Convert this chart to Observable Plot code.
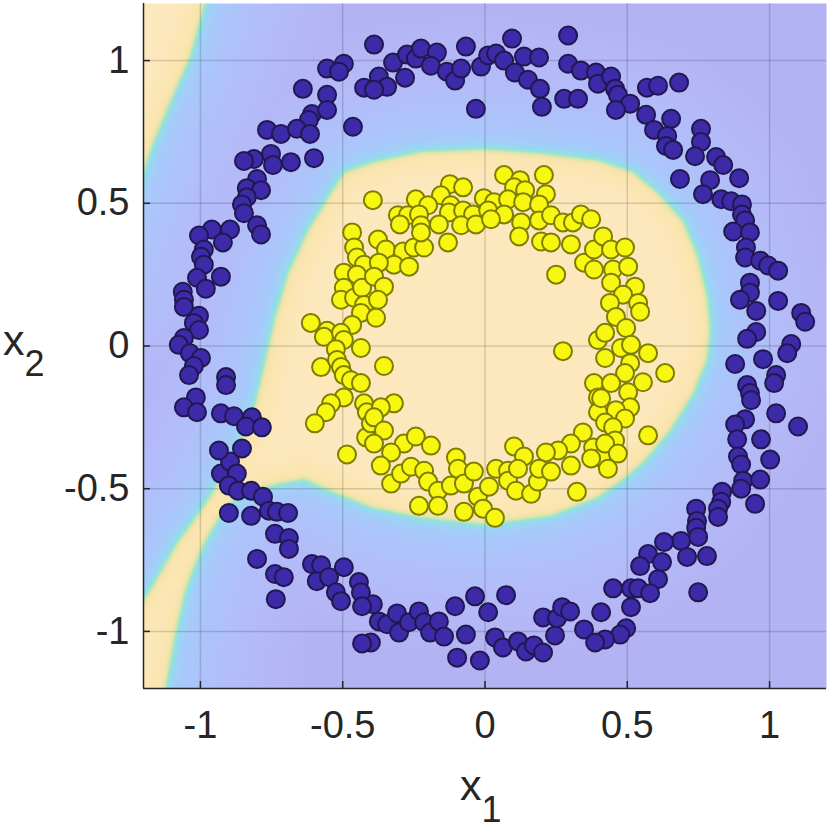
<!DOCTYPE html>
<html>
<head>
<meta charset="utf-8">
<script src="https://cdn.jsdelivr.net/npm/d3@7"></script>
<script src="https://cdn.jsdelivr.net/npm/@observablehq/plot@0.6"></script>
<style>
  body { margin: 0; background: #fff; }
  #chart svg { display: block; }
</style>
</head>
<body>
<div id="chart"></div>
<script>
// ---------- data ----------
const xDomain = [-1.2, 1.2];
const yDomain = [-1.2, 1.2];
const xTicks = [-1, -0.5, 0, 0.5, 1];
const yTicks = [-1, -0.5, 0, 0.5, 1];
const xTickLabels = ["-1", "-0.5", "0", "0.5", "1"];
const yTickLabels = ["-1", "-0.5", "0", "0.5", "1"];

// class boundary of the decision surface (yellow side inside)
const mainBoundary = [
  [-0.626,0.408],[-0.590,0.465],[-0.548,0.535],[-0.496,0.613],[-0.390,0.650],[-0.225,0.685],
  [0.000,0.694],[0.197,0.680],[0.397,0.655],[0.520,0.615],[0.610,0.540],[0.700,0.440],
  [0.750,0.320],[0.786,0.170],[0.796,0.056],[0.784,-0.049],[0.735,-0.170],[0.650,-0.305],
  [0.560,-0.410],[0.490,-0.470],[0.397,-0.535],[0.232,-0.600],[0.000,-0.630],[-0.225,-0.606],
  [-0.401,-0.570],[-0.541,-0.514],[-0.636,-0.472],[-0.731,-0.489],[-0.822,-0.514],[-0.886,-0.549],
  [-0.935,-0.613],[-0.977,-0.683],[-1.016,-0.771],[-1.050,-0.863],[-1.088,-1.035],[-1.118,-1.204],
  [-1.140,-1.6],[-1.6,-1.6],[-1.6,-1.25],[-1.3,-1.05],[-1.199,-0.880],[-1.174,-0.842],
  [-1.083,-0.683],[-1.005,-0.577],[-0.963,-0.514],[-0.921,-0.437],[-0.865,-0.331],[-0.812,-0.201],
  [-0.787,-0.095],[-0.766,-0.004],[-0.742,0.102],[-0.696,0.257]
];
const cornerBoundary = [
  [-1.6,1.6],[-0.867,1.6],[-0.977,1.208],[-1.033,1.007],[-1.100,0.856],[-1.163,0.704],
  [-1.199,0.599],[-1.35,0.2],[-1.6,0.2]
];

// colour of the surface by signed distance to the boundary
const fieldStops  = [-0.5, -0.3, -0.15, -0.05, -0.016, -0.005, 0.003, 0.01, 0.022, 0.1];
const fieldColors = ["#b3b2f3", "#b4b9f7", "#b0c0fa", "#a9c8fb", "#9fd2f7", "#8ee0e6",
                     "#a6e4c6", "#dfe5ac", "#fae4ae", "#fde8bd"];

const outerPoints = [
[-0.496,0.989],[-0.555,0.972],[-0.513,0.961],[-0.640,0.901],[-0.555,0.880],[-0.425,0.905],[-0.390,1.056],[-0.608,0.813],[-0.555,0.827],[-0.619,0.792],[-0.464,0.768],[-0.766,0.757],[-0.717,0.743],[-0.661,0.761],[-0.615,0.743],[-0.752,0.673],[-0.812,0.655],[-0.847,0.648],[-0.745,0.634],[-0.682,0.644],[-0.601,0.658],[-0.801,0.585],[-0.837,0.553],[-0.787,0.546],[-0.837,0.521],[-0.854,0.496],[-0.847,0.465],[-0.960,0.408],[-0.896,0.408],[-0.801,0.423],[-0.787,0.391],[-1.005,0.387],
[-0.323,0.993],[-0.274,1.021],[-0.243,1.007],[-0.225,1.042],[-0.169,1.028],[-0.190,0.982],[-0.134,0.961],[-0.105,0.930],[-0.084,0.972],[-0.067,1.049],[-0.014,0.979],[0.011,1.018],[0.039,1.025],[0.067,1.000],[0.095,1.077],[0.105,0.958],[0.137,1.014],[0.190,1.011],[0.151,0.933],[0.193,0.901],[0.200,0.838],[-0.032,0.831],[0.292,1.088],[0.292,0.989],[0.337,0.965],[0.390,0.958],[0.397,0.919],[0.278,0.866],[0.327,0.866],[-0.373,0.944],[-0.344,0.908],[-0.390,0.898],[-0.281,0.940],
[0.443,0.944],[0.457,0.901],[0.467,0.880],[0.510,0.849],[0.460,0.827],[0.569,0.905],[0.608,0.912],[0.682,0.923],[0.566,0.810],[0.654,0.796],[0.594,0.757],[0.640,0.736],[0.636,0.701],[0.661,0.687],[0.759,0.761],[0.759,0.715],[0.738,0.665],[0.812,0.662],[0.837,0.634],[0.685,0.585],[0.791,0.581],[0.893,0.588],[0.766,0.532],[0.830,0.514],[0.865,0.507],[0.903,0.496],[0.903,0.461],[0.914,0.440],[0.872,0.401],[0.931,0.398],
[0.917,0.345],[0.914,0.310],[0.967,0.299],[0.995,0.282],[1.030,0.264],[0.931,0.222],[0.931,0.187],[0.896,0.162],[0.953,0.123],[1.030,0.158],[1.111,0.116],[1.125,0.085],[0.953,0.049],[0.921,0.025],[1.076,0.007],[1.062,-0.025],[0.879,-0.063],[0.977,-0.046],[1.023,-0.102],[1.016,-0.130],[0.921,-0.137],[0.931,-0.165],[0.935,-0.190],[1.023,-0.236],[1.100,-0.282],[0.914,-0.257],[0.879,-0.275],[0.886,-0.327],[0.970,-0.327],[0.889,-0.387],[1.002,-0.398],
[0.900,-0.415],[0.907,-0.472],[0.900,-0.500],[0.967,-0.468],[0.833,-0.511],[0.830,-0.546],[0.819,-0.570],[0.819,-0.599],[0.949,-0.553],[0.742,-0.570],[0.745,-0.613],[0.742,-0.637],[0.749,-0.669],[0.689,-0.683],[0.629,-0.687],[0.710,-0.739],[0.780,-0.736],[0.573,-0.729],[0.622,-0.757],[0.545,-0.771],[0.608,-0.817],[0.450,-0.849],[0.513,-0.849],[0.538,-0.849],[0.580,-0.866],[0.749,-0.863],[0.513,-0.915],[0.496,-0.989],[0.475,-1.011],[0.422,-1.028],
[-0.394,-0.905],[-0.401,-1.039],[-0.373,-0.965],[-0.344,-0.975],[-0.309,-0.937],[-0.302,-1.004],[-0.267,-0.968],[-0.232,-0.930],[-0.214,-0.968],[-0.193,-1.004],[-0.162,-0.965],[-0.144,-1.018],[-0.105,-0.912],[-0.098,-1.092],[-0.067,-1.011],[-0.035,-0.877],[0.011,-0.933],[-0.018,-1.102],[0.074,-0.873],[0.035,-1.021],[0.063,-1.056],[0.116,-1.035],[0.144,-1.070],[0.172,-1.049],[0.204,-1.074],[0.204,-0.951],[0.246,-1.014],[0.253,-0.954],[0.271,-0.915],[0.299,-0.930],[0.348,-0.993],[0.387,-1.039],[0.408,-0.933],
[-0.928,-0.447],[-0.896,-0.405],[-0.872,-0.447],[-0.900,-0.489],[-0.868,-0.507],[-0.822,-0.507],[-0.780,-0.528],[-0.900,-0.585],[-0.822,-0.595],[-0.759,-0.577],[-0.731,-0.581],[-0.692,-0.585],[-0.738,-0.658],[-0.689,-0.673],[-0.689,-0.711],[-0.801,-0.746],[-0.738,-0.799],[-0.707,-0.810],[-0.735,-0.887],[-0.608,-0.764],[-0.576,-0.768],[-0.591,-0.824],[-0.548,-0.810],[-0.496,-0.775],[-0.524,-0.863],[-0.506,-0.894],[-0.443,-0.827],[-0.436,-0.863],[-0.432,-0.912],[-0.432,-1.042],
[-0.921,0.363],[-0.988,0.338],[-0.998,0.313],[-0.988,0.285],[-1.012,0.239],[-0.928,0.243],[-0.981,0.201],[-1.062,0.190],[-1.058,0.162],[-1.058,0.137],[-1.005,0.106],[-1.023,0.081],[-1.005,0.056],[-1.058,0.028],[-1.076,0.004],[-1.037,-0.025],[-0.998,-0.042],[-1.023,-0.070],[-1.040,-0.102],[-0.910,-0.109],[-0.910,-0.137],[-1.016,-0.180],[-1.058,-0.215],[-1.012,-0.232],[-0.928,-0.236],[-0.882,-0.246],[-0.819,-0.250],[-0.840,-0.282],[-0.784,-0.285],[-0.935,-0.366],[-0.854,-0.359]
];

const innerPoints = [
[0.067,0.599],[0.207,0.599],[0.123,0.581],[0.102,0.556],[0.141,0.546],[0.214,0.532],[-0.123,0.567],[-0.077,0.556],[-0.155,0.528],[-0.243,0.514],[-0.394,0.511],[-0.004,0.518],[0.032,0.504],[0.081,0.514],[0.134,0.504],[0.190,0.496],[-0.200,0.493],[-0.120,0.493],[-0.127,0.468],[-0.077,0.475],[-0.042,0.461],[0.011,0.475],[0.067,0.461],[0.127,0.433],[0.190,0.440],[0.232,0.458],[0.274,0.433],[0.309,0.433],[0.337,0.461],[0.373,0.444],[-0.306,0.458],[-0.271,0.458],[-0.232,0.461],[-0.299,0.426],[-0.225,0.423],[-0.162,0.426],[-0.084,0.423],[-0.032,0.426],[0.021,0.444],
[-0.467,0.398],[-0.460,0.345],[-0.450,0.310],[-0.496,0.257],[-0.425,0.285],[-0.450,0.250],[-0.496,0.204],[-0.506,0.162],[-0.460,0.169],[-0.432,0.204],[-0.425,0.144],[-0.436,0.116],[-0.467,0.074],[-0.612,0.081],[-0.555,0.053],[-0.566,0.032],[-0.506,0.046],[-0.496,0.021],[-0.524,-0.011],[-0.436,-0.007],[-0.576,-0.074],[-0.520,-0.049],[-0.506,-0.074],[-0.496,-0.102],[-0.471,-0.120],[-0.436,-0.130],[-0.496,-0.180],[-0.541,-0.201],[-0.559,-0.232],[-0.598,-0.271],[-0.425,-0.201],[-0.415,-0.232],[-0.418,-0.320],[-0.485,-0.380],[-0.401,-0.271],
[-0.376,0.373],[-0.348,0.338],[-0.288,0.331],[-0.250,0.345],[-0.214,0.345],[-0.225,0.398],[-0.130,0.363],[-0.320,0.285],[-0.267,0.278],[-0.373,0.292],[-0.390,0.243],[-0.355,0.208],[-0.376,0.162],[-0.383,0.099],[-0.355,-0.070],[-0.320,-0.201],[-0.366,-0.215],[-0.390,-0.250],[-0.355,-0.296],[-0.390,-0.342],[-0.285,-0.342],[-0.243,-0.317],[-0.190,-0.349],[-0.330,-0.373],[-0.102,-0.391],
[0.120,0.384],[0.197,0.366],[0.232,0.363],[0.302,0.356],[0.348,0.292],[0.383,0.268],[0.383,0.338],[0.250,0.250],[0.274,-0.018],[0.397,0.021],[0.383,-0.130],[0.397,-0.180],[0.397,-0.232],[0.344,-0.303],[0.302,-0.342],[0.257,-0.366],[0.214,-0.373],[0.102,-0.352],[0.137,-0.387],[0.380,-0.356],[0.408,-0.391],
[0.415,0.384],[0.443,0.338],[0.492,0.345],[0.450,0.268],[0.503,0.278],[0.527,0.208],[0.443,0.222],[0.485,0.180],[0.439,0.151],[0.538,0.151],[0.545,0.120],[0.460,0.102],[0.496,0.063],[0.422,0.046],[0.478,-0.007],[0.513,0.004],[0.573,-0.025],[0.422,-0.042],[0.510,-0.060],[0.492,-0.095],[0.633,-0.095],[0.443,-0.130],[0.555,-0.127],[0.503,-0.162],[0.408,-0.183],[0.510,-0.215],[0.460,-0.225],[0.492,-0.254],[0.422,-0.268],[0.450,-0.285],[0.573,-0.313],[0.457,-0.331],[0.422,-0.342],[0.467,-0.377],
[-0.366,-0.419],[-0.330,-0.482],[-0.295,-0.447],[-0.260,-0.423],[-0.214,-0.437],[-0.200,-0.475],[-0.165,-0.507],[-0.232,-0.560],[-0.165,-0.560],[-0.120,-0.489],[-0.095,-0.430],[-0.074,-0.482],[-0.039,-0.440],[-0.074,-0.581],[-0.025,-0.528],[-0.007,-0.570],[0.035,-0.602],[0.014,-0.493],[0.039,-0.430],[0.081,-0.437],[0.081,-0.472],[0.109,-0.507],[0.116,-0.430],[0.162,-0.518],[0.186,-0.475],[0.190,-0.430],[0.232,-0.440],[0.302,-0.419],[0.323,-0.511],[0.373,-0.394],[0.432,-0.430]
];

// ---------- decision surface: signed distance to the read boundary ----------
const regions = [mainBoundary, cornerBoundary];
function segDist(px, py, ax, ay, bx, by) {
  const dx = bx - ax, dy = by - ay;
  let t = ((px - ax) * dx + (py - ay) * dy) / (dx * dx + dy * dy);
  t = Math.max(0, Math.min(1, t));
  const ex = ax + t * dx - px, ey = ay + t * dy - py;
  return Math.sqrt(ex * ex + ey * ey);
}
function field(x, y) {
  let d = Infinity, inside = false;
  for (const poly of regions) {
    if (d3.polygonContains(poly, [x, y])) inside = true;
    for (let i = 0; i < poly.length; i++) {
      const a = poly[i], b = poly[(i + 1) % poly.length];
      const s = segDist(x, y, a[0], a[1], b[0], b[1]);
      if (s < d) d = s;
    }
  }
  return inside ? d : -d;
}

const W = 830, H = 835;
const mL = 143, mR = 4, mT = 3, mB = 147;
const frameW = W - mL - mR, frameH = H - mT - mB;
const ink = "#262626";

const chart = Plot.plot({
  width: W, height: H,
  marginLeft: mL, marginRight: mR, marginTop: mT, marginBottom: mB,
  x: {domain: xDomain, axis: null},
  y: {domain: yDomain, axis: null},
  color: {type: "linear", domain: fieldStops, range: fieldColors, clamp: true, interpolate: "rgb"},
  style: {fontFamily: "'Liberation Sans', Arial, Helvetica, sans-serif", background: "#fff", color: ink},
  marks: [
    Plot.raster({fill: field, x1: xDomain[0], x2: xDomain[1], y1: yDomain[0], y2: yDomain[1], pixelSize: 1}),
    Plot.ruleX(xTicks, {stroke: "#000", strokeOpacity: 0.15, strokeWidth: 1.5}),
    Plot.ruleY(yTicks, {stroke: "#000", strokeOpacity: 0.15, strokeWidth: 1.5}),
    Plot.dot(outerPoints, {x: d => d[0], y: d => d[1], r: 9, fill: "#3d2aa8", stroke: "#21184f", strokeWidth: 2}),
    Plot.dot(innerPoints, {x: d => d[0], y: d => d[1], r: 9, fill: "#f7f712", stroke: "#7d7d00", strokeWidth: 2}),
    Plot.ruleX([xDomain[0]], {stroke: ink, strokeWidth: 1.5}),
    Plot.ruleY([yDomain[0]], {stroke: ink, strokeWidth: 1.5}),
    Plot.tickX(xTicks, {x: d => d, stroke: ink, strokeWidth: 1.5, insetTop: frameH - 7}),
    Plot.tickY(yTicks, {y: d => d, stroke: ink, strokeWidth: 1.5, insetRight: frameW - 7}),
    Plot.text(xTicks, {x: d => d, text: (d, i) => xTickLabels[i], frameAnchor: "bottom", dy: 49, fontSize: 38, fill: ink}),
    Plot.text(yTicks, {y: d => d, text: (d, i) => yTickLabels[i], frameAnchor: "left", textAnchor: "end", dx: -14, fontSize: 38, fill: ink})
  ]
});

// axis titles with subscripts
const svg = d3.select(chart);
const xl = svg.append("text").attr("text-anchor", "start").attr("x", 460).attr("y", 800)
  .attr("font-size", 43).attr("fill", ink).text("x");
xl.append("tspan").attr("dy", 22).attr("font-size", 36).text("1");
const yl = svg.append("text").attr("text-anchor", "start").attr("x", 3).attr("y", 355)
  .attr("font-size", 43).attr("fill", ink).text("x");
yl.append("tspan").attr("dy", 21).attr("font-size", 36).text("2");

document.getElementById("chart").appendChild(chart);
</script>
</body>
</html>
